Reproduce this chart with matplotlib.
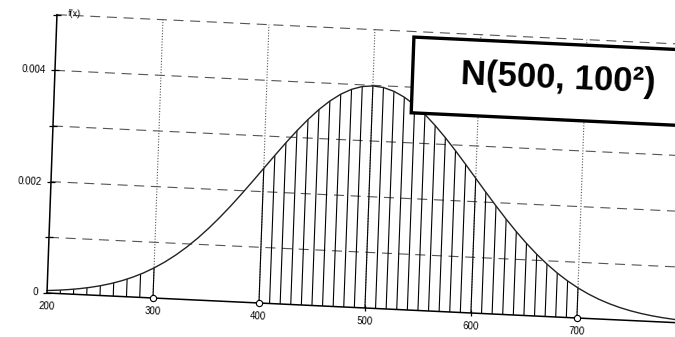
import numpy as np
import matplotlib.pyplot as plt
import matplotlib.transforms as mtransforms
from matplotlib.patches import Rectangle
from matplotlib import rc

rc('font', **{'family': ['Liberation Sans', 'DejaVu Sans'], 'size': 7})

# density, every 10 units
curve_x = list(range(200, 801, 10))
curve_f = [0.0000443, 0.0000595, 0.0000792, 0.0001042, 0.0001358, 0.0001753,
           0.0002239, 0.0002833, 0.0003547, 0.0004398, 0.0005399, 0.0006562,
           0.0007895, 0.0009405, 0.0011092, 0.0012952, 0.0014973, 0.0017137,
           0.0019419, 0.0021785, 0.0024197, 0.0026609, 0.0028969, 0.0031225,
           0.0033322, 0.0035207, 0.0036827, 0.0038139, 0.0039104, 0.0039695,
           0.0039894,
           0.0039695, 0.0039104, 0.0038139, 0.0036827, 0.0035207, 0.0033322,
           0.0031225, 0.0028969, 0.0026609, 0.0024197, 0.0021785, 0.0019419,
           0.0017137, 0.0014973, 0.0012952, 0.0011092, 0.0009405, 0.0007895,
           0.0006562, 0.0005399, 0.0004398, 0.0003547, 0.0002833, 0.0002239,
           0.0001753, 0.0001358, 0.0001042, 0.0000792, 0.0000595, 0.0000443]

# hatching under the left tail (200-300) and the band 400-700
hatch_left_x = [212.5, 225, 237.5, 250, 262.5, 275, 287.5, 300]
hatch_left_f = [0.000064, 0.000091, 0.000127, 0.000175, 0.000238, 0.000317, 0.000417, 0.000540]
hatch_right_x = list(range(400, 701, 10))
fdict = dict(zip(curve_x, curve_f))
hatch_right_f = [fdict[v] for v in hatch_right_x]

xgrid = [300, 400, 500, 600, 700]
ygrid = [0.001, 0.002, 0.003, 0.004, 0.005]
xticklabels = [200, 300, 400, 500, 600, 700]
yticks = [0, 0.002, 0.004]
yticklabels = ['0', '0.002', '0.004']
circles_x = [300, 400, 700]
title = 'N(500, 100\u00b2)'

my_dpi = 100
fig = plt.figure(figsize=(6.75, 3.37), dpi=my_dpi)
ax = fig.add_axes([47/675, 44/337, 636.6/675, 278.5/337])
ax.set_xlim(200, 800)
ax.set_ylim(0, 0.005)
ax.axis('off')

# the scan is slightly tilted: shear/rotate everything around the origin
tilt = mtransforms.Affine2D(np.array([[0.99889, 0.03577, 0],
                                      [-0.0471, 0.99936, 0],
                                      [0, 0, 1]]))
T = ax.transData + mtransforms.Affine2D().translate(-47, -44) + tilt + mtransforms.Affine2D().translate(47, 44)

kw = dict(transform=T, clip_on=False)

for y in ygrid:
    ax.plot([200, 800], [y, y], color='#555555', lw=0.8, ls=(0, (9, 6)), **kw)
for x in xgrid:
    ax.plot([x, x], [0, 0.005], color='#555555', lw=0.8, ls=(0, (1, 1.5)), **kw)

ax.vlines(hatch_left_x, 0, hatch_left_f, colors='black', lw=0.8, **kw)
ax.vlines(hatch_right_x, 0, hatch_right_f, colors='black', lw=0.8, **kw)
ax.plot(curve_x, curve_f, color='#222222', lw=1.0, **kw)

# axes
ax.plot([200, 800], [0, 0], color='black', lw=1.1, **kw)
ax.plot([200, 200], [0, 0.005], color='black', lw=1.1, **kw)
ax.plot([200] * 6, [0] + ygrid, ls='none', marker='_', ms=6, mew=0.9, color='black', **kw)
ax.plot([500, 600], [0, 0], ls='none', marker='|', ms=4, mew=0.9, color='black', **kw)
ax.plot(circles_x, [0] * len(circles_x), ls='none', marker='o', ms=4.5, mfc='white',
        mec='black', mew=0.8, zorder=5, **kw)

for v, s in zip(yticks, yticklabels):
    ax.text(191.5, v, s, ha='right', va='center', rotation=-2.5, **kw)
for v in xticklabels:
    ax.text(v, -0.000235, str(v), ha='center', va='center', rotation=-2.5, **kw)
ax.text(210.5, 0.00503, 'f(x)', ha='left', va='center', fontsize=6.5, rotation=-2.5, **kw)

box = Rectangle((537, 0.00354), 300, 0.00136, facecolor='white', edgecolor='black',
                lw=2.4, zorder=6, **kw)
ax.add_patch(box)
ax.text(674, 0.00428, title, ha='center', va='center', fontsize=25, fontweight='bold',
        rotation=-2.5, rotation_mode='anchor', zorder=7, **kw)

fig.savefig('out.png', dpi=my_dpi)
print('out.png')
